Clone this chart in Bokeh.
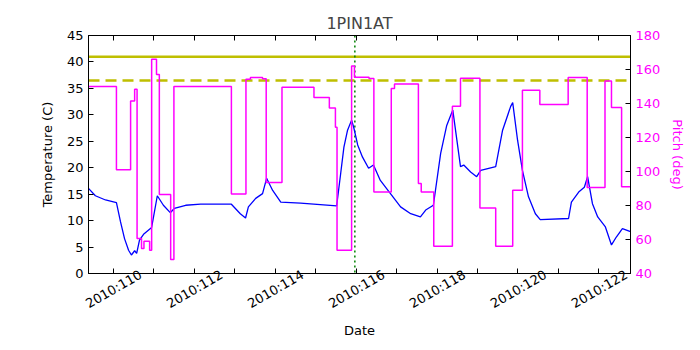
import math
from bokeh.plotting import figure
from bokeh.models import Range1d, LinearAxis, FixedTicker, Span, CustomLabelingPolicy
from bokeh.embed import file_html
from bokeh.resources import INLINE

# ---- data (day of year 2010) ----
temp_day = [109.39, 109.56, 109.81, 110.08, 110.18, 110.28, 110.38, 110.45, 110.53, 110.58,
            110.65, 110.75, 110.95, 111.09, 111.24, 111.41, 111.51, 111.79, 112.16, 112.92,
            113.14, 113.27, 113.34, 113.52, 113.69, 113.79, 113.94, 114.14, 114.63, 115.52,
            115.62, 115.70, 115.79, 115.89, 115.94, 116.04, 116.16, 116.31, 116.43, 116.60,
            116.85, 117.10, 117.35, 117.59, 117.72, 117.91, 118.09, 118.24, 118.39, 118.58,
            118.66, 118.83, 118.98, 119.08, 119.45, 119.62, 119.82, 119.87, 119.99, 120.11,
            120.26, 120.43, 120.55, 121.25, 121.32, 121.50, 121.64, 121.72, 121.84, 121.97,
            122.16, 122.31, 122.43, 122.58, 122.78]
temp_c = [16.1, 14.7, 13.9, 13.4, 9.8, 6.6, 4.4, 3.5, 4.3, 3.8,
          6.3, 7.4, 8.7, 14.7, 12.9, 11.5, 12.3, 12.9, 13.1, 13.1,
          11.3, 10.5, 12.6, 14.2, 15.1, 18.0, 15.7, 13.5, 13.3, 12.8,
          18.9, 23.9, 27.1, 29.0, 27.7, 24.3, 22.0, 19.9, 20.5, 17.6,
          15.1, 12.6, 11.3, 10.7, 12.0, 12.9, 22.7, 28.0, 30.9, 20.2,
          20.5, 19.2, 18.3, 19.5, 20.2, 27.1, 31.6, 32.3, 25.2, 19.5,
          14.5, 11.3, 10.2, 10.4, 13.5, 15.4, 16.3, 18.3, 13.2, 10.7,
          8.8, 5.4, 6.9, 8.5, 7.9]

pitch_day = [109.39, 110.08, 110.43, 110.53, 110.59, 110.70, 110.76, 110.90, 110.95, 111.07,
             111.14, 111.42, 111.50, 112.92, 113.28, 113.39, 113.69, 113.78, 114.17, 114.96,
             115.34, 115.49, 115.53, 115.89, 115.96, 116.32, 116.44, 116.87, 116.95, 117.54,
             117.61, 117.92, 118.38, 118.58, 119.06, 119.45, 119.87, 120.11, 120.54, 121.24,
             121.71, 122.15, 122.31, 122.56, 122.78]
pitch_deg = [150.0, 101.0, 141.4, 148.4, 60.6, 54.7, 59.0, 53.7, 166.0, 157.0,
             86.5, 48.2, 150.0, 86.8, 154.3, 155.3, 154.6, 93.5, 149.6, 143.5,
             137.4, 126.0, 53.7, 162.0, 155.5, 154.7, 88.0, 148.8, 151.4, 93.0,
             88.0, 56.0, 138.4, 154.8, 78.5, 56.0, 89.0, 147.8, 139.4, 155.3,
             90.6, 153.3, 137.6, 91.0, 91.0]

limit_planning = 41.0
limit_caution = 36.5
event_day = 115.97

x_ticks = list(range(110, 123))            # one tick mark per day
x_label_days = list(range(110, 123, 2))    # labelled every two days
temp_ticks = list(range(0, 50, 5))
pitch_ticks = list(range(40, 200, 20))

FONT = "DejaVu Sans"
FS = "13px"
MAG = "#ff00ff"
LABEL_SHIFT = 0.68   # centre rotated labels on their tick (layout only)

p = figure(width=700, height=350, output_backend="svg", toolbar_location=None,
           x_range=Range1d(109.39, 122.78), y_range=Range1d(0, 45),
           min_border_left=88, min_border_right=70, min_border_top=35, min_border_bottom=77,
           title="1PIN1AT")
p.extra_y_ranges = {"pitch": Range1d(40, 180)}

p.title.text_font = FONT
p.title.text_font_size = "16px"
p.title.text_font_style = "normal"
p.title.align = "center"
p.title.standoff = 5

p.grid.visible = False
p.outline_line_color = "black"
p.outline_line_width = 1
p.background_fill_color = "white"
p.border_fill_color = "white"

def style_axis(ax, color="black"):
    ax.major_tick_in = 5
    ax.major_tick_out = 0
    ax.minor_tick_line_color = None
    ax.major_tick_line_color = "black"
    ax.axis_line_color = "black"
    ax.major_label_text_font = FONT
    ax.major_label_text_font_size = FS
    ax.major_label_text_color = color
    ax.axis_label_text_font = FONT
    ax.axis_label_text_font_size = FS
    ax.axis_label_text_font_style = "normal"
    ax.axis_label_text_color = color

def ticks_only(ax):
    ax.major_label_policy = CustomLabelingPolicy(code="return []")
    ax.major_label_text_font_size = "0px"
    ax.major_label_standoff = 0

# bottom axis: tick marks only
xa = p.xaxis[0]
xa.ticker = FixedTicker(ticks=x_ticks)
style_axis(xa)
ticks_only(xa)

# second bottom axis: rotated date labels + axis title
label_pos = [d + LABEL_SHIFT for d in x_label_days]
xl = LinearAxis(ticker=FixedTicker(ticks=label_pos), axis_label="Date",
                major_label_overrides={pos: "2010:%d" % d for pos, d in zip(label_pos, x_label_days)})
style_axis(xl)
xl.major_tick_in = 0
xl.major_tick_line_color = None
xl.axis_line_color = None
xl.major_label_orientation = math.pi / 6
xl.major_label_standoff = 0
xl.axis_label_standoff = 2
p.add_layout(xl, "below")

ya = p.yaxis[0]
ya.ticker = FixedTicker(ticks=temp_ticks)
ya.axis_label = "Temperature (C)"
style_axis(ya)
ya.major_label_standoff = 5
ya.axis_label_standoff = 9

ra = LinearAxis(y_range_name="pitch", axis_label="Pitch (deg)",
                ticker=FixedTicker(ticks=pitch_ticks))
style_axis(ra, MAG)
ra.major_label_standoff = 5
ra.axis_label_standoff = 7
p.add_layout(ra, "right")

ta = LinearAxis(ticker=FixedTicker(ticks=x_ticks))
style_axis(ta)
ticks_only(ta)
p.add_layout(ta, "above")

for loc, dash in ((limit_planning, "solid"), (limit_caution, "11 6")):
    p.add_layout(Span(location=loc, dimension="width", line_color="#bfbf00",
                      line_width=2.5, line_dash=dash, level="underlay"))
p.add_layout(Span(location=event_day, dimension="height", line_color="#008000",
                  line_width=1.5, line_dash="2 3", level="underlay"))

p.line(temp_day, temp_c, line_color="#0000ff", line_width=1.3)
p.step(pitch_day, pitch_deg, mode="after", y_range_name="pitch",
       line_color=MAG, line_width=1.5)

open("out.html", "w").write(file_html(p, INLINE))
